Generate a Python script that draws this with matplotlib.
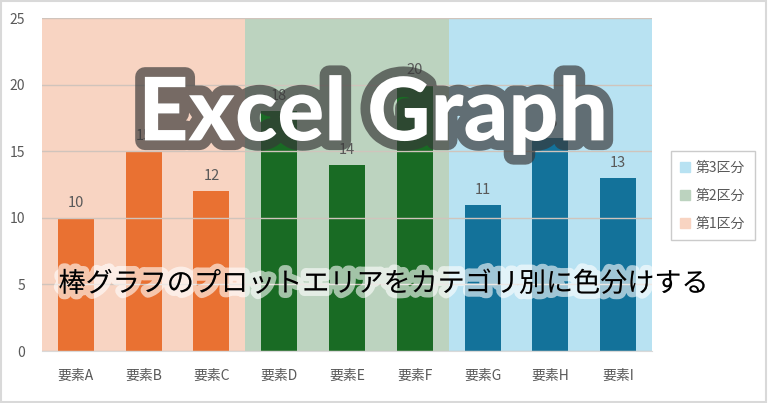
import matplotlib
matplotlib.use("Agg")
import matplotlib.pyplot as plt
import matplotlib.patheffects as pe
from matplotlib.patches import Rectangle, Patch

plt.rcParams['font.family'] = ['Noto Sans CJK JP', 'DejaVu Sans']

categories = ["要素A", "要素B", "要素C", "要素D", "要素E", "要素F", "要素G", "要素H", "要素I"]
values = [10, 15, 12, 18, 14, 20, 11, 16, 13]
groups = ["第1区分", "第2区分", "第3区分"]
group_size = 3
bar_colors = ["#E97132", "#196B24", "#13729A"]
band_colors = ["#F8D4C2", "#BCD3BF", "#B8E2F2"]
yticks = [0, 5, 10, 15, 20, 25]

fig = plt.figure(figsize=(7.68, 4.03), dpi=100)
fig.patches.append(Rectangle((0.001, 0.002), 0.997, 0.995, transform=fig.transFigure,
                             fill=False, edgecolor="#D9D9D9", linewidth=1.5))
ax = fig.add_axes([0.0547, 0.129, 0.7943, 0.826])

x = list(range(len(categories)))
for g in range(len(groups)):
    ax.axvspan(g * group_size - 0.5, (g + 1) * group_size - 0.5, color=band_colors[g], zorder=0, lw=0)

colors = [bar_colors[i // group_size] for i in x]
bars = ax.bar(x, values, width=0.53, color=colors, zorder=2)
for xi, v in zip(x, values):
    ax.text(xi, v + 0.6, str(v), ha="center", va="bottom", fontsize=10.5, color="#595959", zorder=3)

ax.set_xlim(-0.5, len(categories) - 0.5)
ax.set_ylim(0, 25)
ax.set_yticks(yticks)
ax.set_xticks(x)
ax.set_xticklabels(categories)
ax.tick_params(axis="both", length=0, colors="#595959", labelsize=10)
ax.tick_params(axis="y", pad=12)
ax.tick_params(axis="x", pad=13)
ax.yaxis.grid(True, color="#D0C4BC", linewidth=1, zorder=1)
ax.set_axisbelow(False)
for s in ["top", "right", "left"]:
    ax.spines[s].set_visible(False)
ax.spines["bottom"].set_color("#D9D9D9")
ax.spines["bottom"].set_zorder(3)
for gl in ax.get_ygridlines():
    gl.set_zorder(1)

handles = [Patch(color=band_colors[g], label=groups[g]) for g in reversed(range(len(groups)))]
leg = fig.legend(handles=handles, loc="center", bbox_to_anchor=(0.928, 0.514), frameon=True,
                 fontsize=10, handlelength=0.7, handleheight=0.7, handletextpad=0.4,
                 labelspacing=1.0, borderpad=0.7, fancybox=False, labelcolor="#595959")
leg.get_frame().set_edgecolor("#BFBFBF")
leg.get_frame().set_linewidth(1)

fig.text(0.486, 0.715, "Excel Graph", ha="center", va="center", fontsize=63, fontweight="black",
         family=["Lato", "DejaVu Sans"], color="white", zorder=10,
         path_effects=[pe.Stroke(linewidth=14, foreground=(0.22, 0.22, 0.22, 0.68)), pe.Normal()])
fig.text(0.500, 0.295, "棒グラフのプロットエリアをカテゴリ別に色分けする", ha="center", va="center",
         fontsize=19.5, color="black", zorder=10,
         path_effects=[pe.Stroke(linewidth=8, foreground=(1, 1, 1, 0.6)), pe.Normal()])

fig.savefig("out.png", dpi=100)
